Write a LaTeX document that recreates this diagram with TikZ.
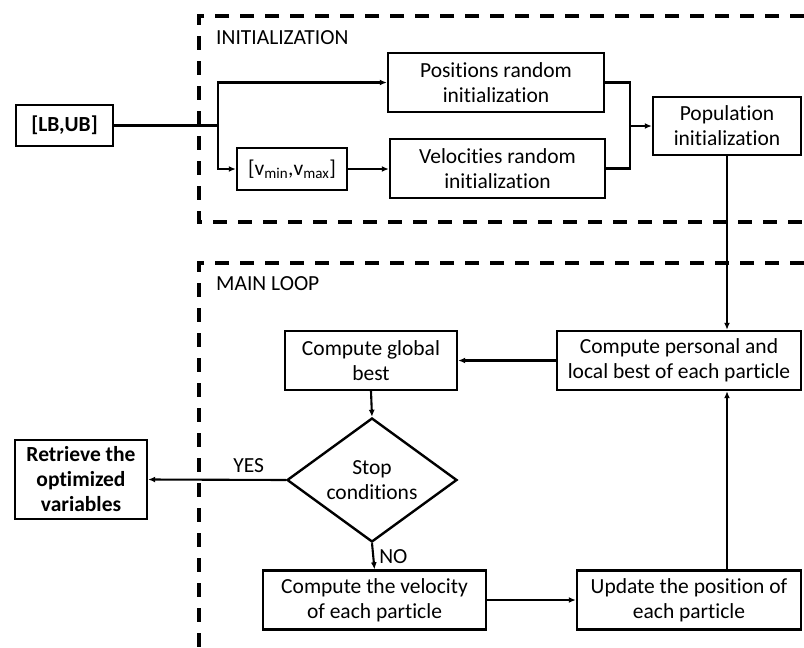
\documentclass[tikz,border=0pt]{standalone}
\usepackage{fontspec}
\setmainfont[Ligatures=NoCommon]{Carlito}
\usetikzlibrary{shapes.geometric,arrows.meta}
\begin{document}
\begin{tikzpicture}[x=1pt,y=-1pt,
  box/.style={draw, line width=2.4pt, rectangle, inner sep=0pt, align=center,
    font=\fontsize{21.5}{25}\selectfont},
  arr/.style={line width=2.1pt, -{Latex[length=7pt,width=6pt]}},
  ln/.style={line width=2.1pt},
  dline/.style={line width=3.5pt, dash pattern=on 14pt off 11pt},
  lbl/.style={font=\fontsize{21.5}{25}\selectfont, inner sep=0pt}]
\useasboundingbox (0,0) rectangle (804,648);
% dashed frames
\draw[dline] (804,16) -- (199,16) -- (199,222) -- (804,222);
\draw[dline] (804,263) -- (199,263) -- (199,648);
\node[lbl, anchor=west] (tinit) at (216,38) {INITIALIZATION};
\node[lbl, anchor=west] (tmain) at (216,284) {MAIN LOOP};
% nodes
\node[box, minimum width=97pt, minimum height=41pt, font=\fontsize{21.5}{25}\selectfont\bfseries] (lbub) at (64.5,125.5) {[LB,UB]};
\node[box, minimum width=110pt, minimum height=42pt] (vmm) at (292,169) {[v\textsubscript{min},v\textsubscript{max}]};
\node[box, minimum width=216pt, minimum height=59pt] (pos) at (496,82.5) {Positions random\\initialization};
\node[box, minimum width=215pt, minimum height=59pt] (vel) at (497.5,168.5) {Velocities random\\initialization};
\node[box, minimum width=148pt, minimum height=58pt] (pop) at (727,126) {Population\\initialization};
\node[box, minimum width=172pt, minimum height=59pt] (glob) at (371,360.5) {Compute global\\best};
\node[box, minimum width=244pt, minimum height=59pt] (pers) at (679,360.5) {Compute personal and\\local best of each particle};
\node[box, shape=diamond, shape aspect=1.37, minimum width=170pt, minimum height=124pt] (dia) at (372,480) {Stop\\conditions};
\node[box, minimum width=132pt, minimum height=79pt, font=\fontsize{21.5}{25}\selectfont\bfseries] (retr) at (81,479.5) {Retrieve the\\optimized\\variables};
\node[box, minimum width=223pt, minimum height=59pt] (velc) at (374.5,600) {Compute the velocity\\of each particle};
\node[box, minimum width=224pt, minimum height=59pt] (upd) at (689,600) {Update the position of\\each particle};
% connectors
\coordinate (j1) at (218,125.5);
\coordinate (j2) at (630,126);
\draw[ln] (lbub.east) -- (j1);
\draw[arr] (j1) |- (pos.west);
\draw[arr] (j1) |- (vmm.west);
\draw[arr] (vmm.east) -- (vmm.east -| vel.west);
\draw[ln] (pos.east) -| (j2);
\draw[ln] (vel.east) -| (j2);
\draw[arr] (j2) -- (pop.west);
\draw[arr] (pop.south) -- (pop.south |- pers.north);
\draw[arr] (pers.west) -- (glob.east);
\draw[arr] (glob.south) -- (dia.north);
\draw[arr] (dia.west) -- (retr.east) node[lbl, pos=0.27, above=6pt] (yes) {YES};
\draw[arr] (dia.south) -- (velc.north) node[lbl, midway, right=5pt] (no) {NO};
\draw[arr] (velc.east) -- (velc.east -| upd.west);
\draw[arr] (upd.north -| pop.south) -- (pers.south -| pop.south);
\end{tikzpicture}
\end{document}
